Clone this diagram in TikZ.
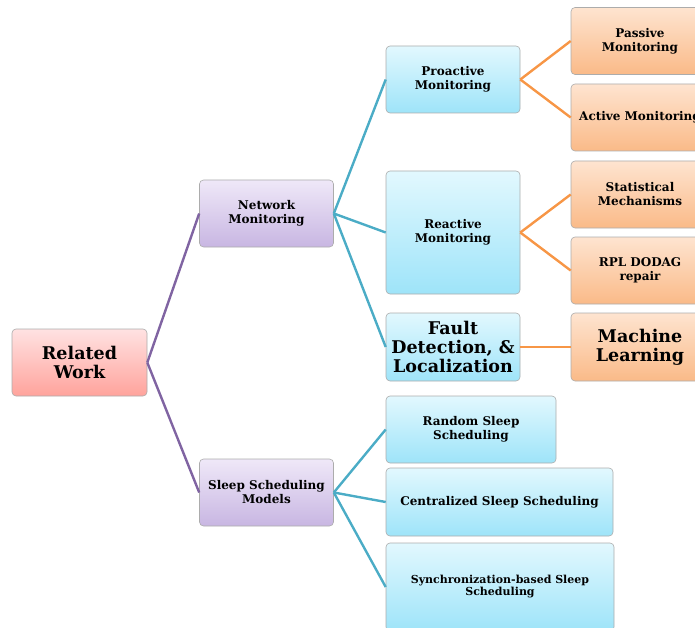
\documentclass[tikz,border=0pt]{standalone}
\usepackage{fontspec}
\setmainfont{DejaVu Serif}
\usepackage{tikz}
\usetikzlibrary{positioning}

\definecolor{rootTop}{HTML}{FFE2E2}
\definecolor{rootBot}{HTML}{FFA39C}
\definecolor{lilacTop}{HTML}{EFE8F8}
\definecolor{lilacBot}{HTML}{C8B6E2}
\definecolor{aquaTop}{HTML}{E2F8FE}
\definecolor{aquaBot}{HTML}{9EE4F9}
\definecolor{peachTop}{HTML}{FEE4D0}
\definecolor{peachBot}{HTML}{FABA88}
\definecolor{purpleLine}{HTML}{8064A2}
\definecolor{aquaLine}{HTML}{4BACC6}
\definecolor{orangeLine}{HTML}{F79646}

\tikzset{
    box/.style={draw=gray!65, line width=0.6pt, rounded corners=4pt, align=center,
        inner sep=2pt, minimum width=134pt, minimum height=67pt,
        font=\bfseries\fontsize{12}{14}\selectfont},
    bigtext/.style={font=\bfseries\fontsize{17.5}{19}\selectfont},
    rootbox/.style={box, top color=rootTop, bottom color=rootBot},
    lvlone/.style={box, top color=lilacTop, bottom color=lilacBot},
    lvltwo/.style={box, top color=aquaTop, bottom color=aquaBot},
    lvlthree/.style={box, top color=peachTop, bottom color=peachBot, minimum width=138pt},
    branch/.style={line width=2.4pt}
}

\begin{document}
\begin{tikzpicture}[x=1pt, y=-1pt]
    \useasboundingbox (0,0) rectangle (695,628);
    \clip (0,0) rectangle (695,628);

    % root
    \node[rootbox, bigtext, minimum width=135pt] (related) at (79.5,362.5) {Related\\Work};

    % first level
    \node[lvlone] (netmon) at (266.5,213.5) {Network\\Monitoring};
    \node[lvlone] (sleepmodels) at (266.5,492.5) {Sleep Scheduling\\Models};

    % second level
    \node[lvltwo] (proactive) at (453,79.5) {Proactive\\Monitoring};
    \node[lvltwo, minimum height=123pt] (reactive) at (453,232.5) {Reactive\\Monitoring};
    \node[lvltwo, bigtext, minimum height=68pt] (fault) at (453,347) {Fault\\Detection, \&\\Localization};
    \node[lvltwo, minimum width=170pt] (randomsleep) at (471,429.5) {Random Sleep\\Scheduling};
    \node[lvltwo, minimum width=227pt, minimum height=68pt] (centralsleep) at (499.5,502) {Centralized Sleep Scheduling};
    \node[lvltwo, minimum width=228pt, minimum height=88pt, font=\bfseries\fontsize{11}{12}\selectfont]
        (syncsleep) at (500,587) {Synchronization-based Sleep\\Scheduling};

    % third level
    \node[lvlthree] (passive) at (640,41) {Passive\\Monitoring};
    \node[lvlthree] (active) at (640,117.5) {Active Monitoring};
    \node[lvlthree] (statistical) at (640,194.5) {Statistical\\Mechanisms};
    \node[lvlthree] (rplrepair) at (640,270.5) {RPL DODAG\\repair};
    \node[lvlthree, bigtext, minimum height=68pt] (learning) at (640,347) {Machine\\Learning};

    % branches
    \foreach \from/\to in {related/netmon, related/sleepmodels}
        \draw[branch, purpleLine] (\from.east) -- (\to.west);

    \foreach \from/\to in {netmon/proactive, netmon/reactive, netmon/fault,
        sleepmodels/randomsleep, sleepmodels/centralsleep, sleepmodels/syncsleep}
        \draw[branch, aquaLine] (\from.east) -- (\to.west);

    \foreach \from/\to in {proactive/passive, proactive/active, reactive/statistical,
        reactive/rplrepair, fault/learning}
        \draw[branch, orangeLine] (\from.east) -- (\to.west);
\end{tikzpicture}
\end{document}
